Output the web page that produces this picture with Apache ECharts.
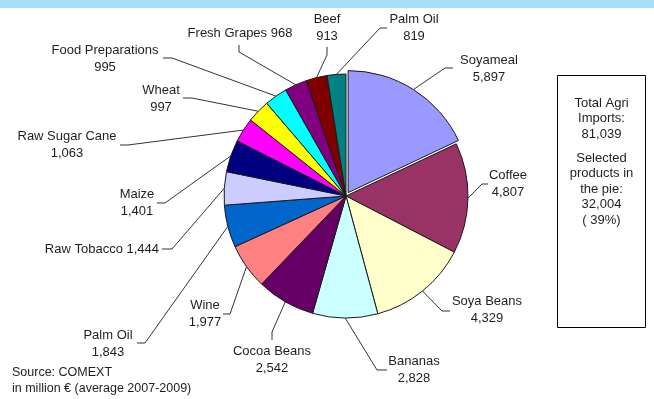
<!DOCTYPE html>
<html>
<head>
<meta charset="utf-8">
<script src="https://cdn.jsdelivr.net/npm/echarts@6/dist/echarts.min.js"></script>
<style>
  html, body { margin: 0; padding: 0; background: #ffffff; }
  #chart { width: 654px; height: 399px; }
</style>
</head>
<body>
<div id="chart"></div>
<script>
// EU agricultural imports by product, million EUR, average 2007-2009
const categories = ['Soyameal', 'Coffee', 'Soya Beans', 'Bananas', 'Cocoa Beans', 'Wine', 'Palm Oil',
  'Raw Tobacco', 'Maize', 'Raw Sugar Cane', 'Wheat', 'Food Preparations', 'Fresh Grapes', 'Beef', 'Palm Oil'];
const values = [5897, 4807, 4329, 2828, 2542, 1977, 1843, 1444, 1401, 1063, 997, 995, 968, 913, 819];
const totalAgriImports = 81039;
const selectedProductsTotal = 32004;
const selectedProductsShare = 39;
const sourceLines = ['Source: COMEXT', 'in million € (average 2007-2009)'];
// slice pulled out of the pie
const explodedIndex = 0;

// slice fill colours, in slice order
const sliceColors = ['#9999ff', '#993366', '#ffffcc', '#ccffff', '#660066', '#ff8080', '#0066cc',
  '#ccccff', '#000080', '#ff00ff', '#ffff00', '#00ffff', '#800080', '#800000', '#008080'];

// label placement: text anchor (x, y, align), leader elbow (bx, by) and leader end at the text (ex, ey)
const labelPlacement = [
  { x: 489, y: 69,  align: 'center', bx: 445, by: 68,  ex: 453, ey: 68 },
  { x: 508, y: 184, align: 'center', bx: 482, by: 184, ex: 488, ey: 184 },
  { x: 487, y: 310, align: 'center', bx: 442, by: 311, ex: 450, ey: 311 },
  { x: 414, y: 370, align: 'center', bx: 377, by: 370, ex: 387, ey: 370 },
  { x: 272, y: 360, align: 'center', bx: 272, by: 332, ex: 272, ey: 340 },
  { x: 205, y: 314, align: 'center', bx: 230, by: 314, ex: 223, ey: 314 },
  { x: 108, y: 344, align: 'center', bx: 145, by: 343, ex: 137, ey: 343 },
  { x: 159, y: 249, align: 'right',  bx: 172, by: 249, ex: 162, ey: 249 },
  { x: 137, y: 203, align: 'center', bx: 165, by: 203, ex: 157, ey: 203 },
  { x: 67,  y: 145, align: 'center', bx: 128, by: 145, ex: 120, ey: 145 },
  { x: 161, y: 99,  align: 'center', bx: 192, by: 98,  ex: 183, ey: 98 },
  { x: 105, y: 59,  align: 'center', bx: 172, by: 58,  ex: 163, ey: 58 },
  { x: 240, y: 33,  align: 'center', bx: 239, by: 52,  ex: 239, ey: 45 },
  { x: 327, y: 28,  align: 'center', bx: 327, by: 55,  ex: 327, ey: 47 },
  { x: 414, y: 28,  align: 'center', bx: 380, by: 28,  ex: 387, ey: 28 }
];
// labels written on one line ("name value")
const singleLineLabels = [7, 12];

const FONT = '"Liberation Sans", Arial, sans-serif';
const TEXT_COLOR = '#1e1e1e';
const PIE_CENTER = [346, 196];
const PIE_RADIUS = 122;
const EXPLODE_OFFSET = 4;
const fmt = v => v.toLocaleString('en-US');

const chart = echarts.init(document.getElementById('chart'), null, { renderer: 'canvas' });

const hiddenSlice = { color: 'rgba(0,0,0,0)', borderWidth: 0 };

// main pie: every slice except the pulled-out one, carries all labels
const mainData = categories.map((name, i) => ({
  name: name,
  value: values[i],
  itemStyle: i === explodedIndex ? hiddenSlice : { color: sliceColors[i] }
}));

// overlay pie: same values, only the pulled-out slice is visible and selected
const explodedData = categories.map((name, i) => ({
  name: name,
  value: values[i],
  selected: i === explodedIndex,
  itemStyle: i === explodedIndex ? { color: sliceColors[i] } : hiddenSlice
}));

function anchorOf(idx) {
  // point on the rim at the slice mid-angle (fallback only)
  const total = values.reduce((a, b) => a + b, 0);
  let before = 0;
  for (let i = 0; i < idx; i++) before += values[i];
  const mid = (before + values[idx] / 2) / total * Math.PI * 2;
  return [PIE_CENTER[0] + PIE_RADIUS * Math.sin(mid), PIE_CENTER[1] - PIE_RADIUS * Math.cos(mid)];
}

const pieBase = {
  type: 'pie',
  center: PIE_CENTER,
  radius: PIE_RADIUS,
  startAngle: 90,
  clockwise: true,
  avoidLabelOverlap: false,
  silent: true,
  emphasis: { disabled: true },
  itemStyle: { borderColor: '#1a1a1a', borderWidth: 1 }
};

chart.setOption({
  animation: false,
  backgroundColor: '#ffffff',
  series: [
    Object.assign({}, pieBase, {
      name: 'products',
      data: mainData,
      label: {
        show: true,
        position: 'outside',
        fontFamily: FONT,
        fontSize: 13,
        lineHeight: 16.5,
        color: TEXT_COLOR,
        formatter: p => singleLineLabels.includes(p.dataIndex)
          ? p.name + ' ' + fmt(p.value)
          : p.name + '\n' + fmt(p.value)
      },
      labelLine: {
        show: true,
        length: 10,
        length2: 10,
        lineStyle: { color: '#333333', width: 1 }
      },
      labelLayout: function (p) {
        const L = labelPlacement[p.dataIndex];
        const start = (p.labelLinePoints && p.labelLinePoints[0]) || anchorOf(p.dataIndex);
        let sx = start[0], sy = start[1];
        if (p.dataIndex === explodedIndex) {
          // follow the pulled-out slice
          const dx = sx - PIE_CENTER[0], dy = sy - PIE_CENTER[1];
          const len = Math.sqrt(dx * dx + dy * dy) || 1;
          sx += dx / len * EXPLODE_OFFSET;
          sy += dy / len * EXPLODE_OFFSET;
        }
        return {
          x: L.x,
          y: L.y,
          align: L.align,
          verticalAlign: 'middle',
          labelLinePoints: [[sx, sy], [L.bx, L.by], [L.ex, L.ey]]
        };
      }
    }),
    Object.assign({}, pieBase, {
      name: 'exploded',
      data: explodedData,
      selectedMode: 'single',
      selectedOffset: EXPLODE_OFFSET,
      select: { itemStyle: { borderColor: '#1a1a1a', borderWidth: 1 } },
      label: { show: false },
      labelLine: { show: false }
    })
  ],
  graphic: [
    {
      type: 'rect',
      shape: { x: 0, y: 0, width: 654, height: 8 },
      style: { fill: '#a8def8' },
      silent: true
    },
    {
      type: 'rect',
      shape: { x: 557.5, y: 75.5, width: 88, height: 252 },
      style: { fill: 'none', stroke: '#000000', lineWidth: 1 },
      silent: true
    },
    {
      type: 'text',
      x: 601.5, y: 95.5,
      style: {
        text: 'Total Agri\nImports:\n' + fmt(totalAgriImports),
        fontFamily: FONT, fontSize: 13, lineHeight: 15.5,
        fill: TEXT_COLOR, align: 'center', verticalAlign: 'top'
      },
      silent: true
    },
    {
      type: 'text',
      x: 601.5, y: 150.5,
      style: {
        text: 'Selected\nproducts in\nthe pie:\n' + fmt(selectedProductsTotal) + '\n( ' + selectedProductsShare + '%)',
        fontFamily: FONT, fontSize: 13, lineHeight: 15.5,
        fill: TEXT_COLOR, align: 'center', verticalAlign: 'top'
      },
      silent: true
    },
    {
      type: 'text',
      x: 12, y: 365,
      style: {
        text: sourceLines.join('\n'),
        fontFamily: FONT, fontSize: 12.5, lineHeight: 15.5,
        fill: TEXT_COLOR, align: 'left', verticalAlign: 'top'
      },
      silent: true
    }
  ]
});
</script>
</body>
</html>
